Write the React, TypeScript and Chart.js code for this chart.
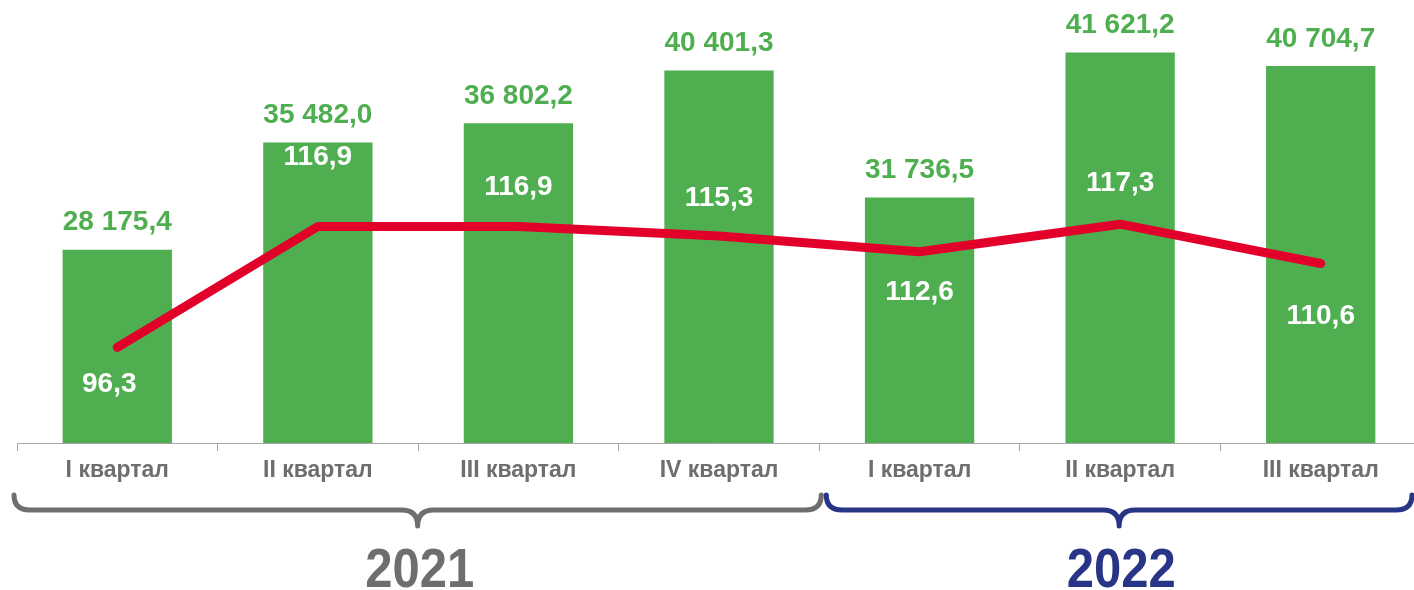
import React, { useEffect, useRef } from "react";
import { Chart, registerables } from "chart.js";

Chart.register(...registerables);

const categories = ["I квартал", "II квартал", "III квартал", "IV квартал", "I квартал", "II квартал", "III квартал"];
const barValues = [28175.4, 35482.0, 36802.2, 40401.3, 31736.5, 41621.2, 40704.7];
const lineValues = [96.3, 116.9, 116.9, 115.3, 112.6, 117.3, 110.6];
const years = ["2021", "2022"];
const yearSpans = [[0, 3], [4, 6]];

const GREEN = "#4FAE4F";
const RED = "#E2002B";
const GRAY = "#6E6E6E";
const NAVY = "#283587";
const FONT = "'Liberation Sans', Arial, sans-serif";

// vertical offsets of line labels relative to their points (layout only)
const lineLabelOffsets = [37, -69, -39, -38, 41, -41, 53];

const fmt = (v: number, d: number) => {
  const s = v.toFixed(d);
  const [i, f] = s.split(".");
  const ii = i.replace(/\B(?=(\d{3})+(?!\d))/g, " ");
  return f !== undefined ? ii + "," + f : ii;
};

const overlay = {
  id: "overlay",
  afterDraw(chart: any) {
    const ctx = chart.ctx;
    const barMeta = chart.getDatasetMeta(0);
    const lineMeta = chart.getDatasetMeta(1);
    ctx.save();
    ctx.textAlign = "center";
    ctx.textBaseline = "middle";
    ctx.font = `bold 28px ${FONT}`;
    barMeta.data.forEach((el: any, i: number) => {
      ctx.fillStyle = GREEN;
      ctx.fillText(fmt(barValues[i], 1), el.x, el.y - 27);
    });
    lineMeta.data.forEach((el: any, i: number) => {
      ctx.fillStyle = "#FFFFFF";
      ctx.fillText(fmt(lineValues[i], 1), el.x - (i === 0 ? 8 : 0), el.y + lineLabelOffsets[i]);
    });

    // braces and year labels
    const xs = chart.scales.x;
    const half = (xs.getPixelForValue(1) - xs.getPixelForValue(0)) / 2;
    const colors = [GRAY, NAVY];
    yearSpans.forEach((sp, k) => {
      const x0 = xs.getPixelForValue(sp[0]) - half - 3 + (k === 1 ? 10 : 0);
      const x1 = Math.min(xs.getPixelForValue(sp[1]) + half + (k === 0 ? 2 : 0), 1412);
      const cx = (x0 + x1) / 2;
      const yTop = 495;
      const yMid = 510;
      const yTip = 526;
      const r = 16;
      ctx.strokeStyle = colors[k];
      ctx.lineWidth = 5;
      ctx.lineCap = "round";
      ctx.lineJoin = "round";
      ctx.beginPath();
      ctx.moveTo(x0, yTop);
      ctx.quadraticCurveTo(x0, yMid, x0 + r, yMid);
      ctx.lineTo(cx - r, yMid);
      ctx.quadraticCurveTo(cx, yMid, cx, yTip);
      ctx.quadraticCurveTo(cx, yMid, cx + r, yMid);
      ctx.lineTo(x1 - r, yMid);
      ctx.quadraticCurveTo(x1, yMid, x1, yTop);
      ctx.stroke();

      ctx.save();
      ctx.fillStyle = colors[k];
      ctx.textBaseline = "alphabetic";
      ctx.font = `bold 49px ${FONT}`;
      ctx.translate(cx + 2, 587);
      ctx.scale(1, 1.12);
      ctx.fillText(years[k], 0, 0);
      ctx.restore();
    });
    ctx.restore();
  },
};

export default function App() {
  const ref = useRef<HTMLCanvasElement>(null);
  useEffect(() => {
    if (!ref.current) return;
    const chart = new Chart(ref.current, {
      type: "bar",
      data: {
        labels: categories,
        datasets: [
          {
            type: "bar",
            data: barValues,
            backgroundColor: GREEN,
            categoryPercentage: 1,
            barPercentage: 0.545,
            yAxisID: "y",
            order: 2,
          },
          {
            type: "line",
            data: lineValues,
            borderColor: RED,
            borderWidth: 9,
            borderCapStyle: "round",
            borderJoinStyle: "round",
            pointRadius: 0,
            tension: 0,
            yAxisID: "y2",
            order: 1,
          } as any,
        ],
      },
      options: {
        responsive: false,
        animation: false,
        devicePixelRatio: 1,
        layout: { padding: { left: 17, right: 0, top: 3, bottom: 0 } },
        plugins: { legend: { display: false }, tooltip: { enabled: false } },
        scales: {
          x: {
            offset: true,
            grid: { offset: true, drawOnChartArea: false, drawTicks: true, tickLength: 8, color: "#A6A6A6" },
            border: { display: true, color: "#A6A6A6", width: 1 },
            ticks: { color: GRAY, font: { family: FONT, size: 23, weight: "bold" }, padding: 6, maxRotation: 0 },
            afterFit: (s: any) => { s.height = 147; },
          },
          y: { display: false, min: 15000, max: 45000 },
          y2: { display: false, min: 80, max: 155 },
        },
      },
      plugins: [overlay],
    });
    return () => chart.destroy();
  }, []);
  return (
    <div style={{ position: "absolute", left: 0, top: 0, width: 1414, height: 590, overflow: "hidden", background: "#fff" }}>
      <canvas ref={ref} width={1421} height={590} style={{ width: 1421, height: 590, display: "block" }} />
    </div>
  );
}
